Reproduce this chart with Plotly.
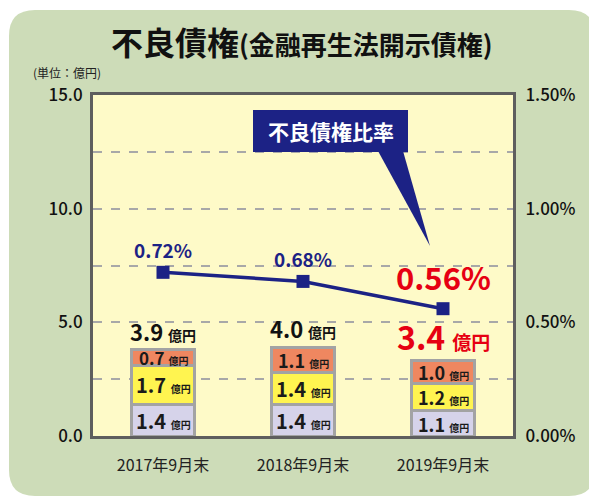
import plotly.graph_objects as go

categories = ["2017年9月末", "2018年9月末", "2019年9月末"]
bottom_vals = [1.4, 1.4, 1.1]   # lavender
middle_vals = [1.7, 1.4, 1.2]   # yellow
top_vals = [0.7, 1.1, 1.0]      # orange
totals = [3.9, 4.0, 3.4]
ratio = [0.72, 0.68, 0.56]
left_ticks = [0, 2.5, 5, 7.5, 10, 12.5, 15]
left_labels = ["0.0", "", "5.0", "", "10.0", "", "15.0"]
right_ticks = [0, 0.5, 1.0, 1.5]
right_labels = ["0.00%", "0.50%", "1.00%", "1.50%"]

W, H = 589, 496
ML, MR, MT, MB = 93, 76, 95, 60
PW, PH = W - ML - MR, H - MT - MB

def px(x):
    return (x - ML) / PW

def py(y):
    return (H - MB - y) / PH

FONT = "Noto Sans CJK JP"
NAVY = "#1c2285"
RED = "#e60012"
BORDER = "#a3a3a3"

fig = go.Figure()
for vals, col in [(bottom_vals, "#d6d3ea"), (middle_vals, "#fff450"), (top_vals, "#ef8760")]:
    fig.add_trace(go.Bar(x=categories, y=vals, width=0.45, marker=dict(color=col, line=dict(color=BORDER, width=3)),
                         hoverinfo="skip", showlegend=False))

fig.add_trace(go.Scatter(x=categories, y=ratio, yaxis="y2", mode="lines+markers",
                         line=dict(color=NAVY, width=3.5),
                         marker=dict(symbol="square", size=13, color=NAVY), showlegend=False))

ann = []
# segment labels
for i, c in enumerate(categories):
    base = 0
    for vals in (bottom_vals, middle_vals, top_vals):
        v = vals[i]
        size = 20 if v >= 1.3 else (18 if v >= 1.0 else 17)
        ann.append(dict(x=c, y=base + v / 2, xref="x", yref="y", showarrow=False,
                        xanchor="center", yanchor="middle",
                        text=f"{v:.1f} <span style='font-size:10px'>億円</span>",
                        font=dict(family=FONT, size=size, color="#1a1a1a", weight=600)))
        base += v
# totals
for i, c in enumerate(categories):
    stack = bottom_vals[i] + middle_vals[i] + top_vals[i]
    if i == 2:
        ann.append(dict(x=c, y=stack, xref="x", yref="y", yshift=25, showarrow=False,
                        xanchor="center", yanchor="middle",
                        text=f"<b>{totals[i]:.1f}</b> <span style='font-size:19px'><b>億円</b></span>",
                        font=dict(family=FONT, size=32, color=RED)))
    else:
        ann.append(dict(x=c, y=stack, xref="x", yref="y", yshift=19, showarrow=False,
                        xanchor="center", yanchor="middle",
                        text=f"<b>{totals[i]:.1f}</b> <span style='font-size:14px'><b>億円</b></span>",
                        font=dict(family=FONT, size=22, color="#111111")))
# ratio labels
for i, c in enumerate(categories):
    if i == 2:
        ann.append(dict(x=c, y=ratio[i], xref="x", yref="y2", yshift=32, showarrow=False,
                        xanchor="center", yanchor="middle",
                        text=f"<b>{ratio[i]:.2f}%</b>", font=dict(family=FONT, size=31, color=RED)))
    else:
        ann.append(dict(x=c, y=ratio[i], xref="x", yref="y2", yshift=23, showarrow=False,
                        xanchor="center", yanchor="middle",
                        text=f"{ratio[i]:.2f}%", font=dict(family=FONT, size=19, color=NAVY, weight=600)))

# title
ann.append(dict(x=px(302), y=py(41), xref="paper", yref="paper", showarrow=False,
                xanchor="center", yanchor="middle",
                text="<b>不良債権</b><b><span style='font-size:26px'>(金融再生法開示債権)</span></b>",
                font=dict(family=FONT, size=32, color="#111111")))
ann.append(dict(x=px(67), y=py(72), xref="paper", yref="paper", showarrow=False,
                xanchor="center", yanchor="middle",
                text="(単位：億円)", font=dict(family=FONT, size=12, color="#222222")))
# callout text
ann.append(dict(x=px(331), y=py(131), xref="paper", yref="paper", showarrow=False,
                xanchor="center", yanchor="middle",
                text="<b>不良債権比率</b>", font=dict(family=FONT, size=21, color="white")))

def rrect(x0, y0, x1, y1, r):
    X0, X1 = px(x0), px(x1)
    Y0, Y1 = py(y0), py(y1)
    rx, ry = r / PW, r / PH
    return (f"M {X0+rx},{Y0} L {X1-rx},{Y0} Q {X1},{Y0} {X1},{Y0-ry} L {X1},{Y1+ry} "
            f"Q {X1},{Y1} {X1-rx},{Y1} L {X0+rx},{Y1} Q {X0},{Y1} {X0},{Y1+ry} "
            f"L {X0},{Y0-ry} Q {X0},{Y0} {X0+rx},{Y0} Z")

shapes = [
    dict(type="path", xref="paper", yref="paper", layer="below", path=rrect(9, 10, 595, 496, 26),
         fillcolor="#cddcb8", line=dict(width=0)),
    dict(type="rect", xref="paper", yref="paper", layer="below", x0=0, y0=0, x1=1, y1=1,
         fillcolor="#fefac8", line=dict(width=0)),
    dict(type="rect", xref="paper", yref="paper", x0=px(253), x1=px(408), y0=py(152), y1=py(110),
         fillcolor=NAVY, line=dict(width=0)),
    dict(type="path", xref="paper", yref="paper",
         path=f"M {px(378)},{py(151)} L {px(430)},{py(246)} L {px(403)},{py(151)} Z",
         fillcolor=NAVY, line=dict(width=0)),
]

fig.update_layout(
    width=W, height=H, margin=dict(l=ML, r=MR, t=MT, b=MB),
    paper_bgcolor="white", plot_bgcolor="#fefac8",
    barmode="stack", bargap=0.55,
    annotations=ann, shapes=shapes,
    font=dict(family=FONT, color="#111111"),
    xaxis=dict(range=[-0.5, 2.5], showline=True, mirror=True, linecolor="#5e5e5e", linewidth=3,
               ticks="", tickfont=dict(size=16, color="#222222"), ticklabelstandoff=13, fixedrange=True),
    yaxis=dict(range=[0, 15], tickvals=left_ticks, ticktext=left_labels, showline=True, linecolor="#5e5e5e",
               linewidth=3, showgrid=True, gridcolor="#a8a8a8", griddash="dash", gridwidth=1.5,
               zeroline=False, ticks="", tickfont=dict(size=17, color="#111111", weight=500), ticklabelstandoff=4),
    yaxis2=dict(range=[0, 1.5], overlaying="y", side="right", tickvals=right_ticks, ticktext=right_labels,
                showline=True, linecolor="#5e5e5e", linewidth=3, showgrid=False, zeroline=False,
                ticks="", tickfont=dict(size=17, color="#111111", weight=500), ticklabelstandoff=6),
)

fig.write_html("out.html", config={"displayModeBar": False},
               post_script="document.body.style.margin='0';document.body.style.overflow='hidden';")
